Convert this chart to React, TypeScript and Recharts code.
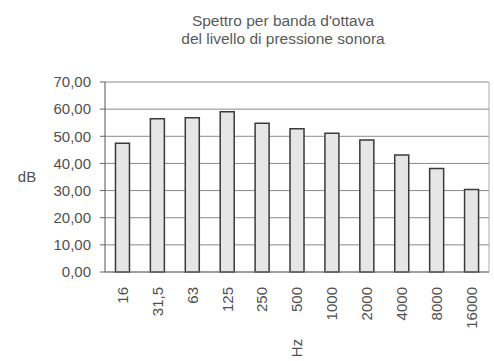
import React from "react";
import { BarChart, Bar, XAxis, YAxis, CartesianGrid } from "recharts";

const bands = ["16", "31,5", "63", "125", "250", "500", "1000", "2000", "4000", "8000", "16000"];
const levels = [47.4, 56.5, 56.8, 59.0, 54.8, 52.8, 51.1, 48.6, 43.1, 38.1, 30.4];
const yTicks = [0, 10, 20, 30, 40, 50, 60, 70];

const data = bands.map((band, i) => ({ band, db: levels[i] }));

const FONT = "'Liberation Sans', Arial, sans-serif";
const TEXT = "#505050";

function BandTick(props: any) {
  const { x, y, payload } = props;
  return (
    <text
      x={x}
      y={y}
      transform={`rotate(-90, ${x}, ${y})`}
      textAnchor="end"
      dy="0.36em"
      fontSize={15}
      fontFamily={FONT}
      fill={TEXT}
    >
      {payload.value}
    </text>
  );
}

function HzLabel(props: any) {
  const { viewBox } = props;
  const x = viewBox.x + viewBox.width / 2;
  const y = 348;
  return (
    <text
      x={x}
      y={y}
      transform={`rotate(-90, ${x}, ${y})`}
      textAnchor="middle"
      dy="0.36em"
      fontSize={15}
      fontFamily={FONT}
      fill={TEXT}
    >
      Hz
    </text>
  );
}

function DbLabel(props: any) {
  const { viewBox } = props;
  return (
    <text
      x={27}
      y={viewBox.y + viewBox.height / 2}
      textAnchor="middle"
      dy="0.36em"
      fontSize={15}
      fontFamily={FONT}
      fill={TEXT}
    >
      dB
    </text>
  );
}

export default function App() {
  return (
    <div style={{ position: "absolute", left: 0, top: 0, width: 494, height: 361, background: "#fff" }}>
      <div
        style={{
          position: "absolute",
          left: 0,
          top: 12,
          width: 566,
          textAlign: "center",
          fontFamily: FONT,
          fontSize: 15.5,
          lineHeight: "18px",
          color: "#5a5a5a",
        }}
      >
        Spettro per banda d'ottava
        <br />
        del livello di pressione sonora
      </div>
      <BarChart
        width={494}
        height={361}
        data={data}
        margin={{ top: 82, right: 4, bottom: 0, left: 0 }}
        barCategoryGap="30%"
      >
        <CartesianGrid vertical={false} stroke="#8a8a8a" strokeWidth={1} />
        <XAxis
          dataKey="band"
          interval={0}
          height={89}
          tick={<BandTick />}
          tickLine={false}
          tickMargin={9}
          axisLine={{ stroke: "#777" }}
          label={<HzLabel />}
        />
        <YAxis
          domain={[0, 70]}
          ticks={yTicks}
          width={105}
          tickFormatter={(v: number) => v.toFixed(2).replace(".", ",")}
          tick={{ fontSize: 15, fontFamily: FONT, fill: TEXT }}
          tickSize={5}
          tickMargin={9}
          tickLine={{ stroke: "#666" }}
          axisLine={{ stroke: "#555" }}
          label={<DbLabel />}
        />
        <YAxis
          yAxisId="right"
          orientation="right"
          domain={[0, 70]}
          width={1}
          tick={false}
          tickLine={false}
          axisLine={{ stroke: "#aaa" }}
        />
        <Bar
          dataKey="db"
          fill="#e6e6e6"
          stroke="#3a3a3a"
          strokeWidth={1.5}
          isAnimationActive={false}
        />
      </BarChart>
    </div>
  );
}
